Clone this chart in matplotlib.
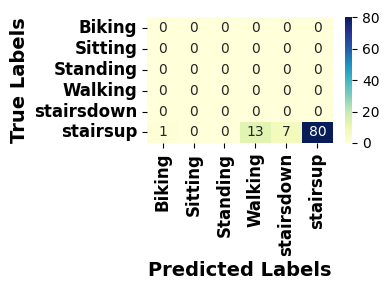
import matplotlib
matplotlib.use("Agg")
import matplotlib.pyplot as plt
import seaborn as sns
import numpy as np

labels = ["Biking", "Sitting", "Standing", "Walking", "stairsdown", "stairsup"]
row_biking = [0, 0, 0, 0, 0, 0]
row_sitting = [0, 0, 0, 0, 0, 0]
row_standing = [0, 0, 0, 0, 0, 0]
row_walking = [0, 0, 0, 0, 0, 0]
row_stairsdown = [0, 0, 0, 0, 0, 0]
row_stairsup = [1, 0, 0, 13, 7, 80]
cbar_ticks = [0, 20, 40, 60, 80]

cm = np.array([row_biking, row_sitting, row_standing, row_walking, row_stairsdown, row_stairsup])

fig = plt.figure(figsize=(3.88, 2.9), dpi=100)
ax = fig.add_axes([0.379, 0.507, 0.479, 0.434])
cax = fig.add_axes([0.889, 0.507, 0.019, 0.434])
sns.heatmap(cm, annot=True, fmt="d", cmap="YlGnBu", ax=ax, cbar_ax=cax,
            xticklabels=labels, yticklabels=labels, annot_kws={"fontsize": 10})
cax.set_yticks(cbar_ticks)
cax.tick_params(labelsize=10)
ax.set_xticklabels(labels, rotation=90, fontsize=12, fontweight="bold")
ax.set_yticklabels(labels, rotation=0, fontsize=12, fontweight="bold")
ax.set_xlabel("Predicted Labels", fontsize=14, fontweight="bold")
ax.set_ylabel("True Labels", fontsize=14, fontweight="bold")
fig.savefig("out.png", dpi=100)
